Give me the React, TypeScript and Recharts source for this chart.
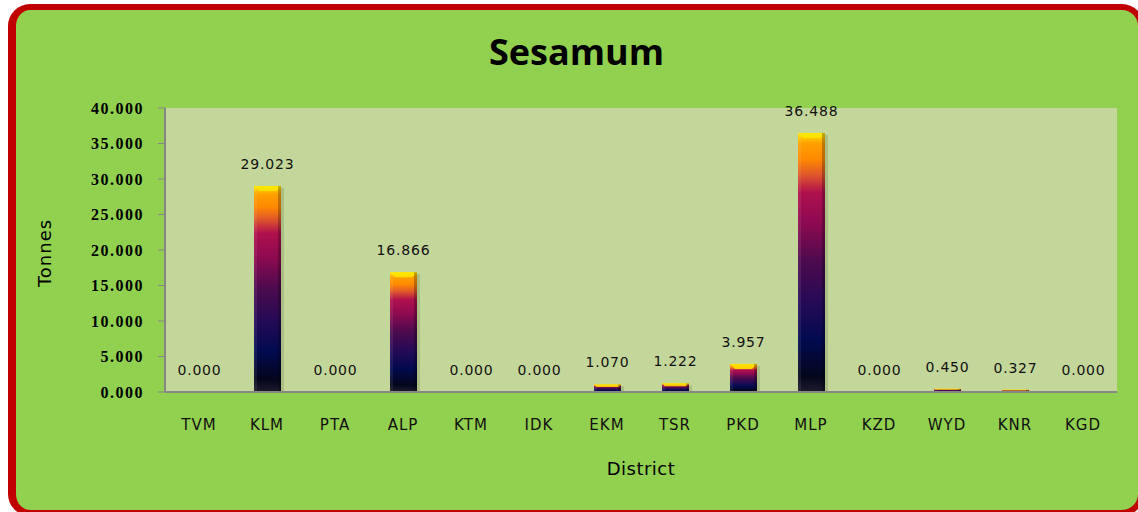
import React from "react";
import { BarChart, Bar, XAxis, YAxis, CartesianGrid, LabelList } from "recharts";

const districts = ["TVM", "KLM", "PTA", "ALP", "KTM", "IDK", "EKM", "TSR", "PKD", "MLP", "KZD", "WYD", "KNR", "KGD"];
const tonnes = [0, 29.023, 0, 16.866, 0, 0, 1.07, 1.222, 3.957, 36.488, 0, 0.45, 0.327, 0];
const yTicks = [0, 5, 10, 15, 20, 25, 30, 35, 40];

const data = districts.map((d, i) => ({ district: d, value: tonnes[i] }));

const BarShape = (props: any) => {
  const { x, y, width, height } = props;
  if (!height || height <= 0) return null;
  const bevel = Math.min(5, height / 3);
  return (
    <g>
      <rect x={x + 3} y={y + 2} width={width} height={height - 2} fill="#7f8f5a" opacity={0.35} />
      <rect x={x} y={y} width={width} height={height} fill="url(#sesGrad)" />
      <polygon
        points={`${x},${y} ${x + width},${y} ${x + width - bevel},${y + bevel} ${x + bevel},${y + bevel}`}
        fill="#ffe600"
        opacity={0.85}
      />
      <rect x={x + width - 3} y={y} width={3} height={height} fill="#000" opacity={0.25} />
      <rect x={x} y={y} width={3} height={height} fill="#fff" opacity={0.08} />
    </g>
  );
};

const renderLabel = (props: any) => {
  const { x, y, width, value } = props;
  return (
    <text
      x={x + width / 2}
      y={y - 17}
      textAnchor="middle"
      fontFamily="DejaVu Sans"
      fontSize={14}
      letterSpacing={0.8}
      fill="#111"
    >
      {Number(value).toFixed(3)}
    </text>
  );
};

export default function App() {
  return (
    <div style={{ position: "absolute", left: 0, top: 0, width: 1138, height: 512, overflow: "hidden", background: "#fff" }}>
      <div
        style={{
          position: "absolute",
          left: 8,
          top: 4,
          width: 1136,
          height: 512,
          boxSizing: "border-box",
          borderStyle: "solid",
          borderColor: "#c00000",
          borderWidth: "6px 6px 6px 8px",
          borderRadius: 22,
          background: "#92d050",
        }}
      />
      <div
        style={{
          position: "absolute",
          left: 0,
          width: 1138,
          top: 27,
          textAlign: "center",
          fontFamily: "Open Sans",
          fontWeight: 700,
          fontSize: 36,
          color: "#000",
          paddingLeft: 15,
          boxSizing: "border-box",
        }}
      >
        Sesamum
      </div>
      <div
        style={{
          position: "absolute",
          left: 44,
          top: 253,
          transform: "translate(-50%, -50%) rotate(-90deg)",
          fontFamily: "DejaVu Sans",
          fontSize: 18,
          letterSpacing: 1,
          color: "#000",
          whiteSpace: "nowrap",
        }}
      >
        Tonnes
      </div>
      <div
        style={{
          position: "absolute",
          left: 641,
          top: 468,
          transform: "translate(-50%, -50%)",
          fontFamily: "DejaVu Sans",
          fontSize: 18,
          letterSpacing: 0.5,
          color: "#000",
        }}
      >
        District
      </div>
      <div style={{ position: "absolute", left: 0, top: 0 }}>
        <BarChart width={1138} height={512} data={data} margin={{ top: 108, right: 21, left: 85, bottom: 90 }}>
          <defs>
            <linearGradient id="sesGrad" x1="0" y1="0" x2="0" y2="1">
              <stop offset="0%" stopColor="#ffe800" />
              <stop offset="4%" stopColor="#ffa000" />
              <stop offset="10%" stopColor="#ff8a00" />
              <stop offset="16%" stopColor="#e0582a" />
              <stop offset="23%" stopColor="#b0104e" />
              <stop offset="35%" stopColor="#8c0a50" />
              <stop offset="50%" stopColor="#4c0a4e" />
              <stop offset="65%" stopColor="#260a56" />
              <stop offset="80%" stopColor="#020a50" />
              <stop offset="94%" stopColor="#04061c" />
              <stop offset="100%" stopColor="#1c1c2c" />
            </linearGradient>
          </defs>
          <CartesianGrid horizontal={false} vertical={false} fill="#c4d79b" />
          <XAxis
            dataKey="district"
            axisLine={{ stroke: "#868686", strokeWidth: 2 }}
            tickLine={false}
            tickMargin={21}
            height={30}
            interval={0}
            tick={{ fontFamily: "DejaVu Sans", fontSize: 15, fill: "#111", letterSpacing: 1 }}
          />
          <YAxis
            domain={[0, 40]}
            ticks={yTicks}
            interval={0}
            width={80}
            axisLine={{ stroke: "#868686", strokeWidth: 2 }}
            tickLine={{ stroke: "#868686" }}
            tickSize={7}
            tickMargin={14}
            tickFormatter={(v: number) => v.toFixed(3)}
            tick={{ fontFamily: "Liberation Serif", fontWeight: 700, fontSize: 16, fill: "#000", letterSpacing: 1.5 }}
          />
          <Bar dataKey="value" barSize={27} shape={<BarShape />} isAnimationActive={false}>
            <LabelList dataKey="value" content={renderLabel} />
          </Bar>
        </BarChart>
      </div>
    </div>
  );
}
